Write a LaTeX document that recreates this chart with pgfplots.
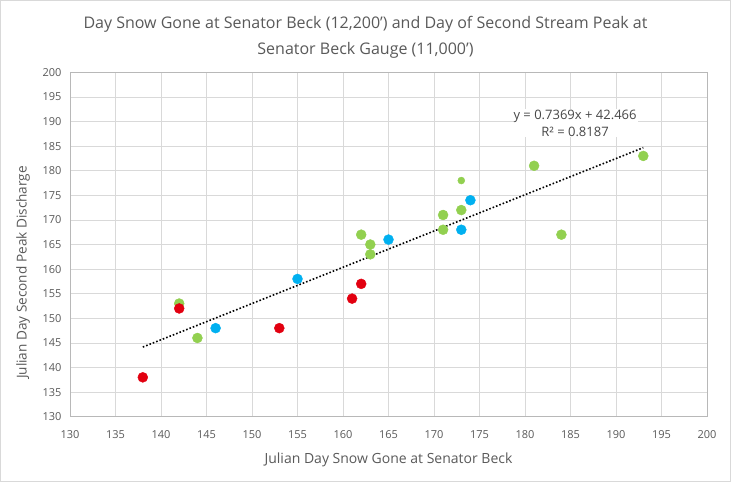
\documentclass[border=0pt]{standalone}
\usepackage{fontspec}
\setmainfont{Open Sans}
\usepackage{pgfplots}
\pgfplotsset{compat=1.18}
\definecolor{txt}{RGB}{89,89,89}
\definecolor{gridc}{RGB}{217,217,217}
\definecolor{xred}{RGB}{226,0,16}
\definecolor{xblue}{RGB}{0,176,240}
\definecolor{xgreen}{RGB}{146,208,80}
\begin{document}
\begin{tikzpicture}
\path[use as bounding box] (0,0) rectangle (731bp,482bp);
\draw[gridc] (0.5bp,0.5bp) rectangle (730.5bp,481.5bp);
\node[txt,font=\fontsize{16bp}{19bp}\selectfont] at (365.5bp,458bp) {Day Snow Gone at Senator Beck (12,200') and Day of Second Stream Peak at};
\node[txt,font=\fontsize{16bp}{19bp}\selectfont] at (365.5bp,432bp) {Senator Beck Gauge (11,000')};
\begin{axis}[
  at={(70bp,65.3bp)}, anchor=south west,
  scale only axis, width=637bp, height=344.4bp,
  xmin=130, xmax=200, ymin=130, ymax=200,
  xtick distance=5, ytick distance=5,
  grid=major, major grid style={gridc, line width=0.8pt},
  axis line style={gridc!85!black, line width=0.8pt},
  major tick length=0pt,
  /pgf/number format/assume math mode=true,
  tick label style={txt, font=\fontsize{11bp}{13bp}\selectfont},
  xticklabel style={yshift=-10bp},
  yticklabel style={xshift=-5bp},
  xlabel={Julian Day Snow Gone at Senator Beck},
  ylabel={Julian Day Second Peak Discharge},
  label style={txt, font=\fontsize{14bp}{16bp}\selectfont},
  xlabel style={yshift=-8bp},
  ylabel style={yshift=6bp, xshift=-28bp, font=\fontsize{13.6bp}{16bp}\selectfont},
  clip=false,
]
\addplot[black, dotted, line width=1.6pt] coordinates {(138,144.158) (193,184.688)};
\addplot[only marks, mark=*, mark size=5bp, xgreen, mark options={draw=none, fill=xgreen}] coordinates {
(142,153) (144,146) (162,167) (163,165) (163,163) (171,171) (171,168) (173,172) (181,181) (193,183) (184,167)};
\addplot[only marks, mark=*, mark size=3.5bp, xgreen, mark options={draw=none, fill=xgreen}] coordinates {(173,178)};
\addplot[only marks, mark=*, mark size=5bp, xred, mark options={draw=none, fill=xred}] coordinates {
(138,138) (142,152) (153,148) (161,154) (162,157)};
\addplot[only marks, mark=*, mark size=5bp, xblue, mark options={draw=none, fill=xblue}] coordinates {
(146,148) (155,158) (165,166) (173,168) (174,174)};
\node[txt!80!black, font=\fontsize{13bp}{17bp}\selectfont, align=center, fill=white, inner sep=1bp] at (axis cs:185.5,189.7) {y = 0.7369x + 42.466\\ R² = 0.8187};
\end{axis}
\end{tikzpicture}
\end{document}
